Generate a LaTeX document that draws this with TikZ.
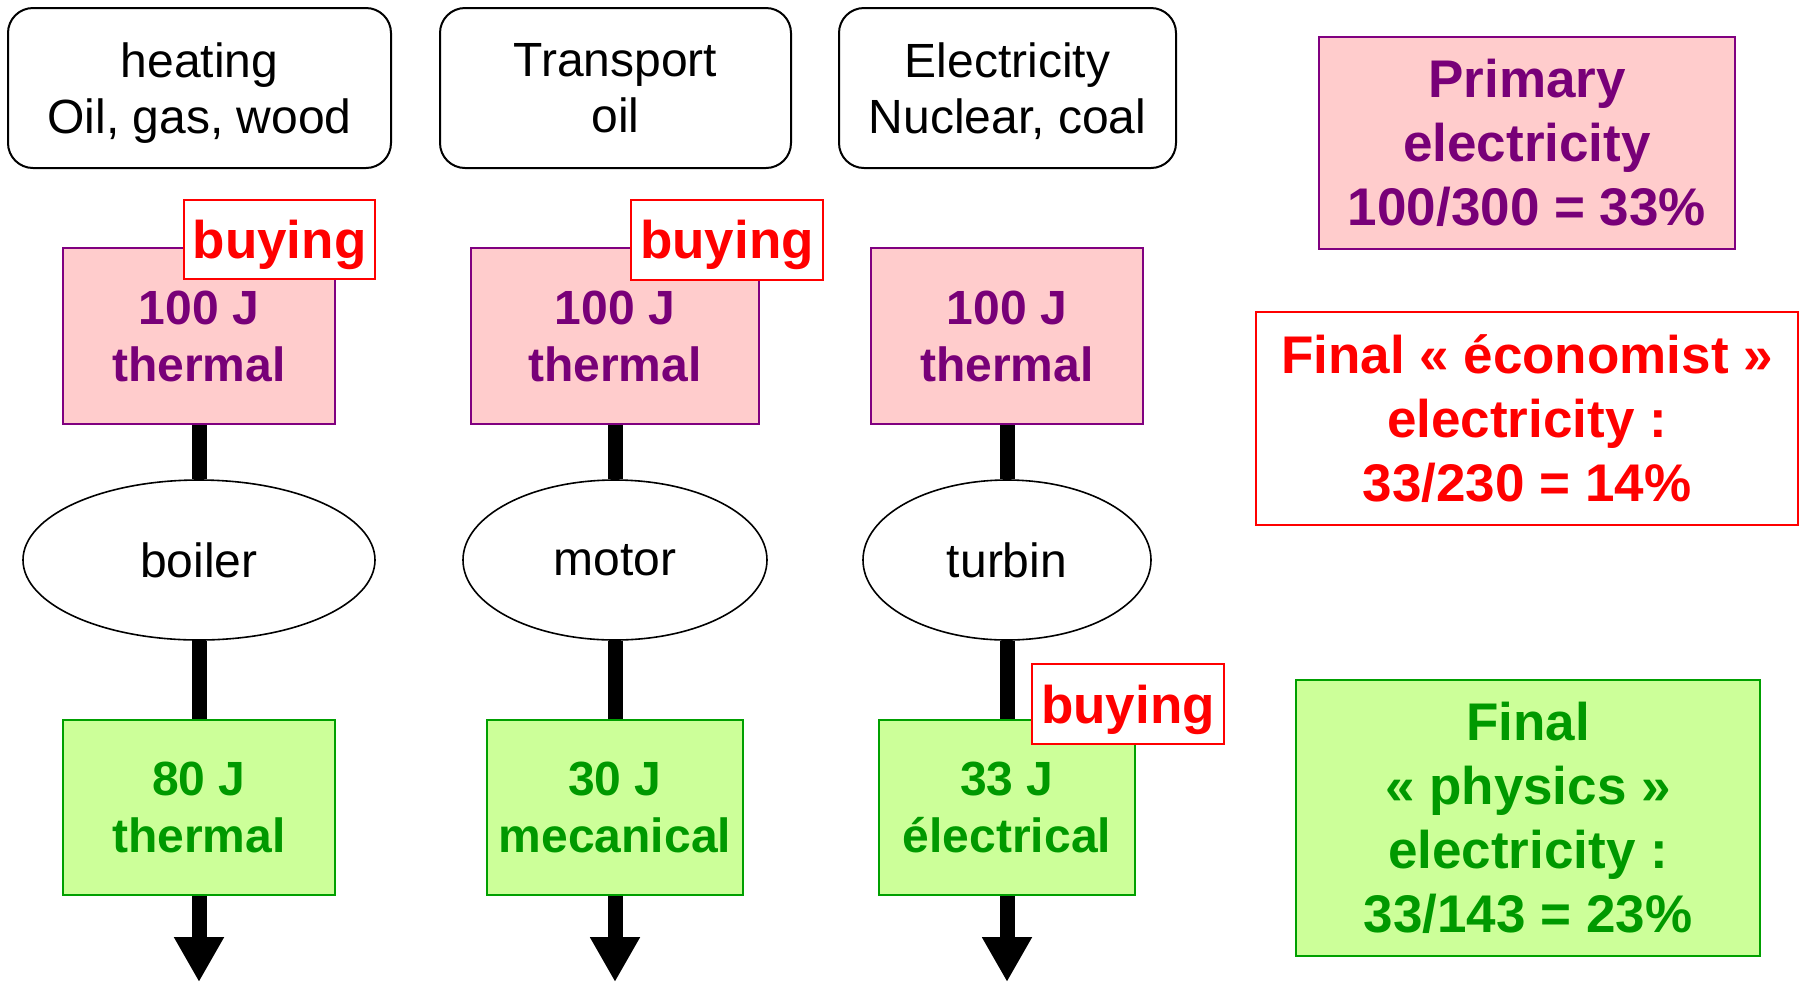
\documentclass[tikz,border=0pt]{standalone}
\usepackage{fontspec}
\setmainfont{Liberation Sans}
\usetikzlibrary{shapes.geometric,arrows.meta}
\definecolor{pinkfill}{HTML}{FFCCCC}
\definecolor{purpline}{HTML}{800080}
\definecolor{purptext}{HTML}{780078}
\definecolor{greenfill}{HTML}{CCFF99}
\definecolor{greenline}{HTML}{00A000}
\definecolor{greentext}{HTML}{009900}
\definecolor{redc}{HTML}{FF0000}
\begin{document}
\begin{tikzpicture}[x=0.5pt,y=-0.5pt,
  srcbox/.style={draw=black,line width=1pt,rounded corners=12.5pt,fill=white,align=center,
    inner sep=0pt,minimum height=80pt,text depth=0pt,font=\fontsize{24}{28}\selectfont},
  pinkbox/.style={draw=purpline,fill=pinkfill,line width=1pt,align=center,inner sep=0pt,
    text=purptext,font=\bfseries\fontsize{24}{28.5}\selectfont},
  greenbox/.style={draw=greenline,fill=greenfill,line width=1pt,align=center,inner sep=0pt,
    text=greentext,font=\bfseries\fontsize{24}{28.5}\selectfont},
  buybox/.style={draw=redc,fill=white,line width=1pt,inner sep=0pt,text=redc,text depth=0pt,
    minimum width=96pt,minimum height=40pt,font=\bfseries\fontsize{26.5}{30}\selectfont},
  machine/.style={ellipse,draw=black,line width=0.8pt,fill=white,inner sep=0pt,
    minimum height=80pt,font=\fontsize{24}{28}\selectfont},
  bigtext/.style={font=\bfseries\fontsize{26.5}{32}\selectfont},
  conn/.style={line width=7.5pt},
  outarrow/.style={line width=7.5pt,-{Triangle[width=23.5pt,length=22.5pt]}}
]
\useasboundingbox (0,0) rectangle (1800,982);

% source boxes
\node[srcbox,minimum width=191.5pt] (heat) at (199.5,88) {heating\\Oil, gas, wood};
\node[srcbox,minimum width=175.5pt] (trans) at (615.5,88) {Transport\\oil};
\node[srcbox,minimum width=168.5pt] (elec) at (1007.5,88) {Electricity\\Nuclear, coal};

% primary thermal boxes
\node[pinkbox,minimum width=136pt,minimum height=88pt] (p1) at (199,336) {100 J\\thermal};
\node[pinkbox,minimum width=144pt,minimum height=88pt] (p2) at (615,336) {100 J\\thermal};
\node[pinkbox,minimum width=136pt,minimum height=88pt] (p3) at (1007,336) {100 J\\thermal};

% machines
\node[machine,minimum width=176pt] (e1) at (199,560) {boiler};
\node[machine,minimum width=152pt] (e2) at (615,560) {motor};
\node[machine,minimum width=144pt] (e3) at (1007,560) {turbin};

% final boxes
\node[greenbox,minimum width=136pt,minimum height=87.5pt] (g1) at (199,807.5) {80 J\\thermal};
\node[greenbox,minimum width=128pt,minimum height=87.5pt] (g2) at (615,807.5) {30 J\\mecanical};
\node[greenbox,minimum width=128pt,minimum height=87.5pt] (g3) at (1007,807.5) {33 J\\électrical};

% connectors
\draw[conn] (p1.south) -- (e1.north);
\draw[conn] (p2.south) -- (e2.north);
\draw[conn] (p3.south) -- (e3.north);
\draw[conn] (e1.south) -- (g1.north);
\draw[conn] (e2.south) -- (g2.north);
\draw[conn] (e3.south) -- (g3.north);
\coordinate (t1) at (199,982);
\coordinate (t2) at (615,982);
\coordinate (t3) at (1007,982);
\draw[outarrow] (g1.south) -- (t1);
\draw[outarrow] (g2.south) -- (t2);
\draw[outarrow] (g3.south) -- (t3);

% buying labels
\node[buybox,minimum width=95.5pt,minimum height=39.5pt] (b1) at (279.5,239.5) {buying};
\node[buybox] (b2) at (727,239.5) {buying};
\node[buybox] (b3) at (1128,704) {buying};

% right-hand summary boxes
\node[pinkbox,bigtext,minimum width=208pt,minimum height=106pt] (prim) at (1527,143)
  {Primary\\electricity\\100/300 = 33\%};
\node[draw=redc,fill=white,line width=1pt,align=center,inner sep=0pt,text=redc,bigtext,
  minimum width=271pt,minimum height=106.5pt] (econ) at (1527,418.5)
  {Final « économist »\\electricity :\\33/230 = 14\%};
\node[greenbox,bigtext,minimum width=232pt,minimum height=138pt] (phys) at (1528,818)
  {Final\\« physics »\\electricity :\\33/143 = 23\%};
\end{tikzpicture}
\end{document}
